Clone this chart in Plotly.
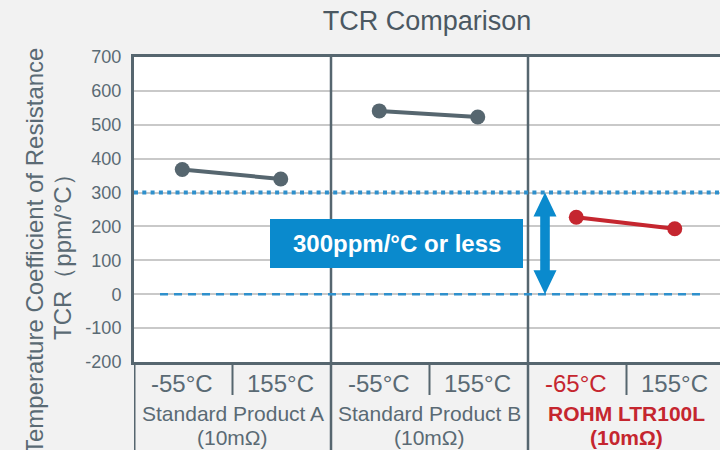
import plotly.graph_objects as go

# ---------------- data ----------------
products = ["Standard Product A", "Standard Product B", "ROHM LTR100L"]
product_specs = ["(10mΩ)", "(10mΩ)", "(10mΩ)"]
temp_low_labels = ["-55°C", "-55°C", "-65°C"]
temp_high_labels = ["155°C", "155°C", "155°C"]
tcr_low = [368, 541, 227]
tcr_high = [340, 523, 193]
threshold = 300
threshold_label = "300ppm/°C or less"
y_ticks = [-200, -100, 0, 100, 200, 300, 400, 500, 600, 700]
y_tick_text = [str(v) for v in y_ticks]

# ---------------- style / layout ----------------
W, H = 720, 450
ML, MR, MT, MB = 134, 0, 57, 88
PW, PH = W - ML - MR, H - MT - MB
PANEL_PX = 197.0
XMAX = PW / PANEL_PX
YMIN, YMAX = -200, 700
Y_PER_PX = (YMAX - YMIN) / PH
X_PER_PX = 1 / PANEL_PX

SLATE = "#56666f"
TEXT = "#5a6a74"
RED = "#c5262f"
BLUE = "#0a8acd"
BLUE_LINE = "#2f90cc"
FONT = "Liberation Sans, Arial, sans-serif"

LOW_OFF, HIGH_OFF = 0.245, 0.745


def py_to_paper(py):
    return (MT + PH - py) / PH


def px_to_paper(px):
    return (px - ML) / PW


fig = go.Figure()

line_colors = [SLATE, SLATE, RED]
for i, name in enumerate(products):
    fig.add_trace(go.Scatter(
        x=[i + LOW_OFF, i + HIGH_OFF],
        y=[tcr_low[i], tcr_high[i]],
        mode="lines+markers",
        line=dict(color=line_colors[i], width=4),
        marker=dict(color=line_colors[i], size=15),
        name=name, showlegend=False, hoverinfo="skip",
    ))

shapes = []
for i in range(1, 3):
    shapes.append(dict(type="line", xref="x", yref="paper", x0=i, x1=i,
                       y0=-MB / PH, y1=1, line=dict(color=SLATE, width=2.5), layer="above"))
shapes.append(dict(type="line", xref="x", yref="paper", x0=0, x1=0,
                   y0=-MB / PH, y1=0, line=dict(color=SLATE, width=3), layer="above"))
for i in range(3):
    shapes.append(dict(type="line", xref="x", yref="paper", x0=i + 0.5, x1=i + 0.5,
                       y0=py_to_paper(395), y1=0, line=dict(color=SLATE, width=2), layer="above"))
shapes.append(dict(type="line", xref="paper", yref="y", x0=0, x1=1, y0=threshold, y1=threshold,
                   line=dict(color=BLUE_LINE, width=4, dash="4px,4.3px"), layer="above"))
shapes.append(dict(type="line", xref="x", yref="y", x0=0.132, x1=2.873, y0=0, y1=0,
                   line=dict(color=BLUE_LINE, width=2.5, dash="8px,6px"), layer="above"))
shapes.append(dict(type="rect", xref="x", yref="y",
                   x0=(270 - ML) * X_PER_PX, x1=(523 - ML) * X_PER_PX,
                   y0=(MT + PH - 268) * Y_PER_PX + YMIN, y1=(MT + PH - 219) * Y_PER_PX + YMIN,
                   fillcolor=BLUE, line=dict(width=0), layer="above"))
c = 2 + (545 - 528) * X_PER_PX
hw, sw = 11.5 * X_PER_PX, 4.8 * X_PER_PX
hh = 24 * Y_PER_PX
top, bot = threshold, 0
path = (f"M {c},{top} L {c+hw},{top-hh} L {c+sw},{top-hh} L {c+sw},{bot+hh} "
        f"L {c+hw},{bot+hh} L {c},{bot} L {c-hw},{bot+hh} L {c-sw},{bot+hh} "
        f"L {c-sw},{top-hh} L {c-hw},{top-hh} Z")
shapes.append(dict(type="path", xref="x", yref="y", path=path,
                   fillcolor=BLUE, line=dict(width=0), layer="above"))

annotations = []
annotations.append(dict(x=((270 + 523) / 2 - ML) * X_PER_PX, y=(MT + PH - 243.5) * Y_PER_PX + YMIN,
                        xref="x", yref="y", text=f"<b>{threshold_label}</b>", showarrow=False,
                        font=dict(family=FONT, size=24, color="white"),
                        xanchor="center", yanchor="middle"))
for i in range(3):
    is_rohm = products[i].startswith("ROHM")
    annotations.append(dict(x=i + LOW_OFF, y=py_to_paper(383), xref="x", yref="paper",
                            text=temp_low_labels[i], showarrow=False,
                            font=dict(family=FONT, size=24, color=RED if is_rohm else TEXT),
                            xanchor="center", yanchor="middle"))
    annotations.append(dict(x=i + HIGH_OFF, y=py_to_paper(383), xref="x", yref="paper",
                            text=temp_high_labels[i], showarrow=False,
                            font=dict(family=FONT, size=24, color=TEXT),
                            xanchor="center", yanchor="middle"))
    nm = f"<b>{products[i]}</b>" if is_rohm else products[i]
    sp = f"<b>{product_specs[i]}</b>" if is_rohm else product_specs[i]
    col = RED if is_rohm else TEXT
    annotations.append(dict(x=i + 0.5, y=py_to_paper(413), xref="x", yref="paper",
                            text=nm, showarrow=False, font=dict(family=FONT, size=21, color=col),
                            xanchor="center", yanchor="middle"))
    annotations.append(dict(x=i + 0.5, y=py_to_paper(437), xref="x", yref="paper",
                            text=sp, showarrow=False, font=dict(family=FONT, size=21, color=col),
                            xanchor="center", yanchor="middle"))
annotations.append(dict(x=px_to_paper(34), y=py_to_paper(251), xref="paper", yref="paper",
                        text="Temperature Coefficient of Resistance", textangle=-90, showarrow=False,
                        font=dict(family=FONT, size=24, color=TEXT), xanchor="center", yanchor="middle"))
annotations.append(dict(x=px_to_paper(62), y=py_to_paper(251), xref="paper", yref="paper",
                        text="TCR（ppm/°C）", textangle=-90, showarrow=False,
                        font=dict(family=FONT, size=24, color=TEXT), xanchor="center", yanchor="middle"))

fig.update_layout(
    width=W, height=H,
    margin=dict(l=ML, r=MR, t=MT, b=MB, pad=0),
    paper_bgcolor="#f2f2f2", plot_bgcolor="white",
    title=dict(text="TCR Comparison", x=0.5, xref="paper", xanchor="center",
               y=1 - 21 / H, yref="container", yanchor="middle",
               font=dict(family=FONT, size=27, color="#4b5862")),
    xaxis=dict(range=[0, XMAX], showgrid=False, zeroline=False, showticklabels=False,
               showline=True, mirror=True, linecolor=SLATE, linewidth=3, fixedrange=True),
    yaxis=dict(range=[YMIN, YMAX], tickvals=y_ticks, ticktext=y_tick_text, showgrid=True,
               gridcolor="#c9c9c9", gridwidth=1.5, zeroline=False, showline=True,
               linecolor=SLATE, linewidth=3,
               tickfont=dict(family=FONT, size=18, color=TEXT), ticks="", ticklabelstandoff=6,
               fixedrange=True),
    shapes=shapes, annotations=annotations,
)

fig.write_html("out.html", config={"displayModeBar": False},
               post_script="document.body.style.margin='0';document.body.style.padding='0';")
